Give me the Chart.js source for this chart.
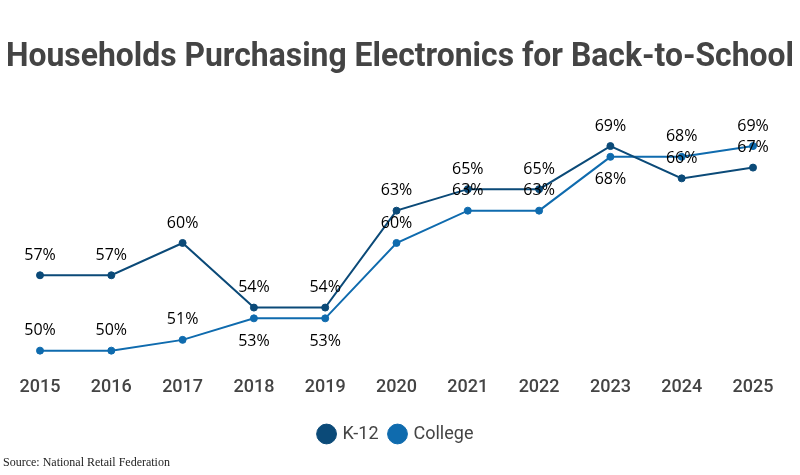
<!DOCTYPE html>
<html>
<head>
<meta charset="utf-8">
<script src="https://cdn.jsdelivr.net/npm/chart.js@4"></script>
<style>
  body { margin: 0; background: #fff; }
  .wrap { position: relative; width: 800px; height: 475px; }
  .source {
    position: absolute; left: 3px; top: 455px;
    font-family: "Liberation Serif", serif; font-size: 12px; color: #222;
  }
</style>
</head>
<body>
<div class="wrap">
  <canvas id="chart" width="800" height="475"></canvas>
  <div class="source">Source: National Retail Federation</div>
</div>
<script>
// === Data ===
const years = ["2015", "2016", "2017", "2018", "2019", "2020", "2021", "2022", "2023", "2024", "2025"];
const k12 = [57, 57, 60, 54, 54, 63, 65, 65, 69, 66, 67];
const college = [50, 50, 51, 53, 53, 60, 63, 63, 68, 68, 69];
const titleText = "Households Purchasing Electronics for Back-to-School";

const K12_COLOR = "#0b4a78";
const COLLEGE_COLOR = "#0f6bae";
// college labels that sit under the point
const collegeBelow = [3, 4, 8];

// === Title (drawn full width, independent of the plot padding) ===
const wideTitle = {
  id: "wideTitle",
  afterDraw(chart) {
    const ctx = chart.ctx;
    ctx.save();
    ctx.font = "bold 33px Roboto";
    ctx.fillStyle = "#444";
    ctx.textAlign = "center";
    ctx.textBaseline = "alphabetic";
    ctx.fillText(titleText, chart.width / 2, 66, chart.width - 12);
    ctx.restore();
  },
};

// === Value labels ===
const valueLabels = {
  id: "valueLabels",
  afterDatasetsDraw(chart) {
    const ctx = chart.ctx;
    ctx.save();
    ctx.font = "500 16px 'Open Sans'";
    ctx.fillStyle = "#000";
    ctx.textAlign = "center";
    ctx.textBaseline = "middle";
    chart.data.datasets.forEach((ds, di) => {
      chart.getDatasetMeta(di).data.forEach((pt, i) => {
        let dy = -20;
        if (di === 1 && collegeBelow.includes(i)) dy = 23;
        ctx.fillText(ds.data[i] + "%", pt.x, pt.y + dy);
      });
    });
    ctx.restore();
  },
};

new Chart(document.getElementById("chart"), {
  type: "line",
  data: {
    labels: years,
    datasets: [
      {
        label: "K-12",
        data: k12,
        borderColor: K12_COLOR,
        backgroundColor: K12_COLOR,
        borderWidth: 2,
        pointRadius: 3.5,
        pointBorderWidth: 1,
        pointHoverRadius: 3.5,
        tension: 0,
      },
      {
        label: "College",
        data: college,
        borderColor: COLLEGE_COLOR,
        backgroundColor: COLLEGE_COLOR,
        borderWidth: 2,
        pointRadius: 3.5,
        pointBorderWidth: 1,
        pointHoverRadius: 3.5,
        tension: 0,
      },
    ],
  },
  options: {
    responsive: false,
    animation: false,
    layout: { padding: { top: 103, left: 40, right: 47, bottom: 22 } },
    plugins: {
      title: { display: false },
      legend: {
        position: "bottom",
        labels: {
          usePointStyle: true,
          pointStyle: "circle",
          boxWidth: 14,
          boxHeight: 14,
          padding: 12,
          color: "#444",
          font: { family: "Roboto", size: 18 },
        },
      },
      tooltip: { enabled: false },
    },
    scales: {
      x: {
        offset: false,
        grid: { display: false, drawTicks: false },
        border: { display: false },
        ticks: {
          color: "#444",
          padding: 15,
          font: { family: "Roboto", size: 18, weight: "500" },
        },
      },
      y: {
        display: false,
        min: 49,
        max: 73,
      },
    },
  },
  plugins: [valueLabels, wideTitle],
});
</script>
</body>
</html>
